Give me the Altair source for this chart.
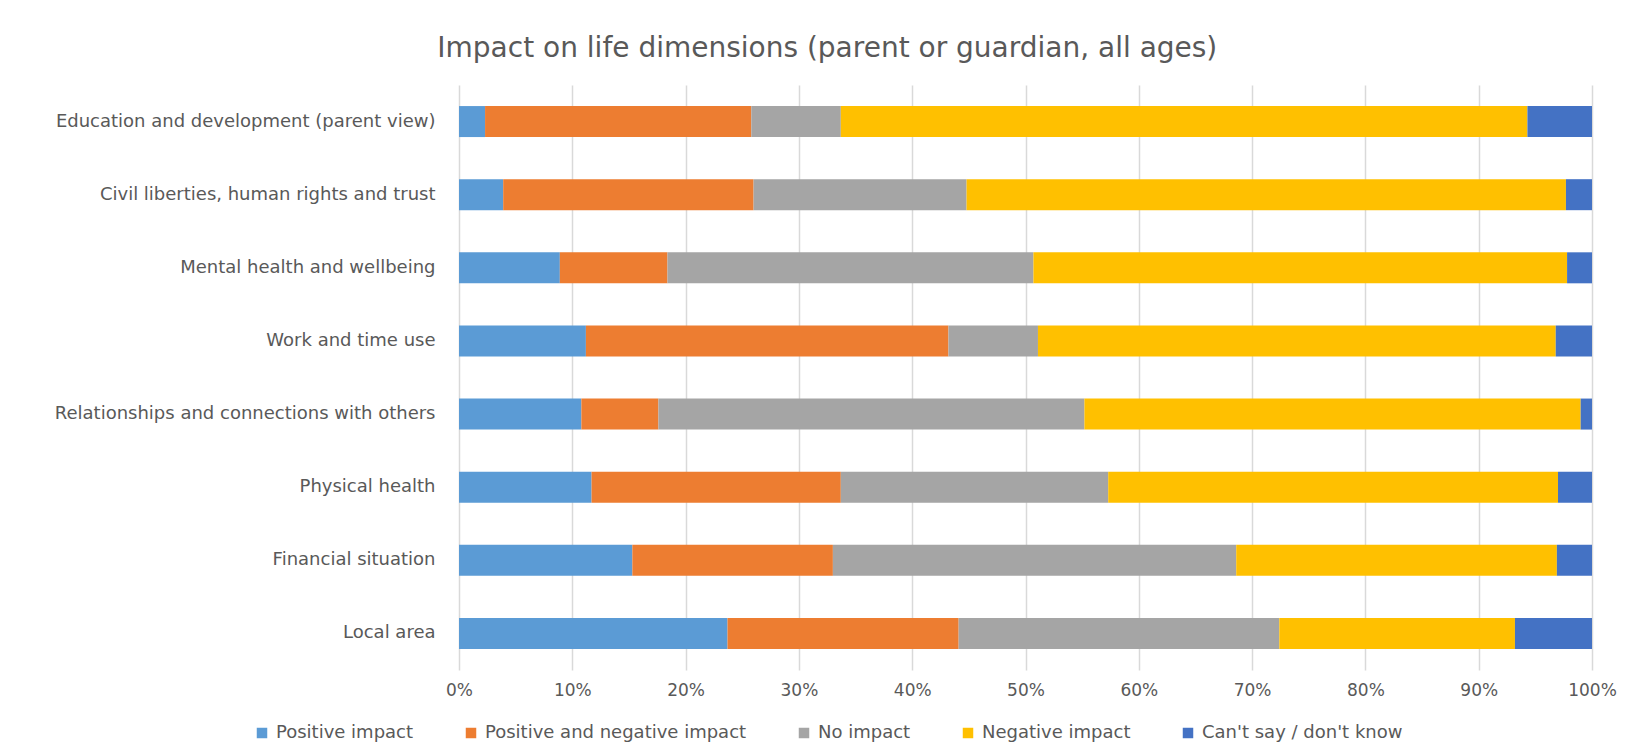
import altair as alt
import pandas as pd

categories = [
    "Education and development (parent view)",
    "Civil liberties, human rights and trust",
    "Mental health and wellbeing",
    "Work and time use",
    "Relationships and connections with others",
    "Physical health",
    "Financial situation",
    "Local area",
]
series = [
    "Positive impact",
    "Positive and negative impact",
    "No impact",
    "Negative impact",
    "Can't say / don't know",
]
positive = [2.3, 3.9, 8.9, 11.2, 10.8, 11.7, 15.3, 23.7]
mixed = [23.5, 22.1, 9.5, 32.0, 6.8, 22.0, 17.7, 20.4]
no_impact = [7.9, 18.8, 32.3, 7.9, 37.6, 23.6, 35.6, 28.3]
negative = [60.6, 52.9, 47.1, 45.7, 43.8, 39.7, 28.3, 20.8]
dont_know = [5.7, 2.3, 2.2, 3.2, 1.0, 3.0, 3.1, 6.8]
colors = ["#5B9BD5", "#ED7D31", "#A5A5A5", "#FFC000", "#4472C4"]
ticks = [0, 0.1, 0.2, 0.3, 0.4, 0.5, 0.6, 0.7, 0.8, 0.9, 1.0]

rows = []
for s_i, (name, vals) in enumerate(zip(series, [positive, mixed, no_impact, negative, dont_know])):
    for cat, v in zip(categories, vals):
        rows.append({"category": cat, "series": name, "value": v, "order": s_i})
df = pd.DataFrame(rows)

font = "DejaVu Sans"
grey = "#595959"

chart = (
    alt.Chart(df)
    .mark_bar()
    .encode(
        y=alt.Y(
            "category:N",
            sort=categories,
            title=None,
            scale=alt.Scale(paddingInner=0.576, paddingOuter=0.288),
            axis=alt.Axis(
                domain=False, ticks=False, labelPadding=24, labelFontSize=18,
                labelColor=grey, labelFont=font, labelLimit=600,
            ),
        ),
        x=alt.X(
            "value:Q",
            stack="normalize",
            title=None,
            scale=alt.Scale(domain=[0, 1]),
            axis=alt.Axis(
                values=ticks, format=".0%", domain=False, ticks=False,
                grid=True, gridColor="#D9D9D9", gridWidth=1.5, labelFlush=False,
                labelPadding=12, labelFontSize=17, labelColor=grey, labelFont=font,
            ),
        ),
        color=alt.Color(
            "series:N",
            sort=series,
            scale=alt.Scale(domain=series, range=colors),
            legend=alt.Legend(
                title=None, orient="none", direction="horizontal",
                legendX=-206, legendY=639,
                symbolType="square", symbolSize=110,
                symbolStrokeWidth=0, labelFontSize=18, labelColor=grey,
                labelFont=font, columnPadding=48, labelOffset=5, labelLimit=400,
            ),
        ),
        order=alt.Order("order:Q"),
    )
    .properties(
        width=1133,
        height=585,
        title=alt.TitleParams(
            "Impact on life dimensions (parent or guardian, all ages)",
            fontSize=28, font=font, fontWeight="normal", color=grey,
            anchor="middle", frame="bounds", offset=22, dx=-8,
        ),
        padding={"left": 451, "top": 77, "right": 32, "bottom": 78},
        autosize=alt.AutoSizeParams(type="none"),
    )
    .configure_view(stroke=None)
)

chart.save("out.html", embed_options={"renderer": "svg", "actions": False})
